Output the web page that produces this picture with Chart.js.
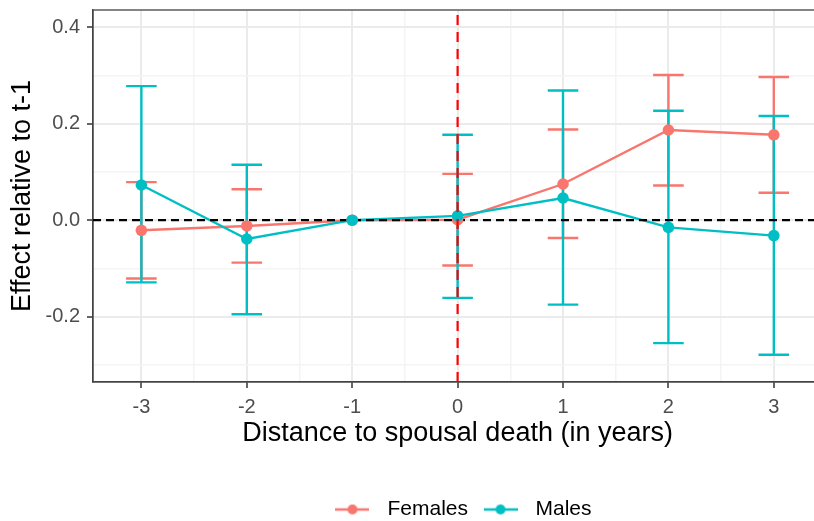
<!DOCTYPE html>
<html><head><meta charset="utf-8">
<script src="https://cdn.jsdelivr.net/npm/chart.js@4.4.1/dist/chart.umd.min.js"></script>
<style>
html,body{margin:0;padding:0;background:#fff;overflow:hidden;width:814px;height:521px}
#wrap{position:absolute;left:0;top:0;width:828px;height:521px}
</style>
</head><body><div id="wrap"><canvas id="c" width="828" height="521"></canvas></div>
<script>
// ---- data ----
const years = [-3, -2, -1, 0, 1, 2, 3];
const femalesEst = [-0.021, -0.012, 0, 0.001, 0.075, 0.187, 0.177];
const femalesLo  = [-0.121, -0.088, null, -0.094, -0.037, 0.072, 0.057];
const femalesHi  = [0.079, 0.064, null, 0.096, 0.188, 0.301, 0.297];
const malesEst   = [0.073, -0.039, 0, 0.009, 0.046, -0.015, -0.032];
const malesLo    = [-0.129, -0.195, null, -0.161, -0.175, -0.255, -0.279];
const malesHi    = [0.278, 0.115, null, 0.177, 0.269, 0.227, 0.216];
const seriesNames = ['Females', 'Males'];
const xTickValues = [-3, -2, -1, 0, 1, 2, 3];
const xTickLabels = ['-3', '-2', '-1', '0', '1', '2', '3'];
const xMinorValues = [-2.5, -1.5, -0.5, 0.5, 1.5, 2.5];
const yTickValues = [-0.2, 0, 0.2, 0.4];
const yTickLabels = ['-0.2', '0.0', '0.2', '0.4'];
const yMinorValues = [-0.3, -0.1, 0.1, 0.3];
const refLineY = 0;      // horizontal reference
const eventX = 0;        // spousal death
const xLimits = [-3.459, 3.459];
const yLimits = [-0.3355, 0.4358];
const capHalf = 0.145;

// ---- styles ----
const colF = '#F8766D', colM = '#00BFC4';
const FONT = '"Liberation Sans", Arial, sans-serif';

function pts(xs, ys) { return xs.map((x, i) => ({x: x, y: ys[i]})); }
function errorSegments(xs, lo, hi) {
  const out = [];
  xs.forEach((x, i) => {
    if (lo[i] == null || hi[i] == null) return;
    out.push({x: x, y: lo[i]}, {x: x, y: hi[i]}, {x: x, y: null});
    out.push({x: x - capHalf, y: hi[i]}, {x: x + capHalf, y: hi[i]}, {x: x, y: null});
    out.push({x: x - capHalf, y: lo[i]}, {x: x + capHalf, y: lo[i]}, {x: x, y: null});
  });
  return out;
}
function legendIcon(color) {
  const c = document.createElement('canvas');
  c.width = 34; c.height = 12;
  const g = c.getContext('2d');
  g.strokeStyle = color; g.lineWidth = 2.4;
  g.beginPath(); g.moveTo(0, 6); g.lineTo(34, 6); g.stroke();
  g.fillStyle = color; g.beginPath(); g.arc(17, 6, 5, 0, Math.PI * 2); g.fill();
  return c;
}
const near = (v, arr) => arr.some(a => Math.abs(a - v) < 1e-9);

const lineBase = {showLine: true, pointRadius: 0, borderWidth: 2.4, spanGaps: false, fill: false};

const datasets = [
  Object.assign({}, lineBase, {label: 'vline', data: [{x: eventX, y: yLimits[0]}, {x: eventX, y: yLimits[1]}], borderColor: '#ff0000', borderDash: [10, 7], borderWidth: 2.2}),
  {label: 'Males pts', data: pts(years, malesEst), showLine: false, pointRadius: 5.8, pointBackgroundColor: colM, pointBorderColor: colM, pointBorderWidth: 0},
  {label: 'Females pts', data: pts(years, femalesEst), showLine: false, pointRadius: 5.8, pointBackgroundColor: colF, pointBorderColor: colF, pointBorderWidth: 0},
  Object.assign({}, lineBase, {label: 'hline', data: [{x: xLimits[0], y: refLineY}, {x: xLimits[1], y: refLineY}], borderColor: '#000000', borderDash: [8, 5], borderWidth: 2.2}),
  Object.assign({}, lineBase, {label: 'Males line', data: pts(years, malesEst), borderColor: colM}),
  Object.assign({}, lineBase, {label: 'Females line', data: pts(years, femalesEst), borderColor: colF}),
  Object.assign({}, lineBase, {label: 'Males eb', data: errorSegments(years, malesLo, malesHi), borderColor: colM}),
  Object.assign({}, lineBase, {label: 'Females eb', data: errorSegments(years, femalesLo, femalesHi), borderColor: colF})
];

const frame = {
  id: 'frame',
  afterLayout(chart) {
    if (chart.legend) { chart.legend.left += 47; chart.legend.right += 47; }
  },
  beforeDatasetsDraw(chart) {
    const a = chart.chartArea, g = chart.ctx;
    g.save(); g.strokeStyle = '#444'; g.lineWidth = 1.3;
    g.strokeRect(a.left, a.top, a.right - a.left, a.bottom - a.top);
    g.restore();
  }
};

new Chart(document.getElementById('c'), {
  type: 'scatter',
  data: {datasets: datasets},
  plugins: [frame],
  options: {
    responsive: false, animation: false,
    layout: {padding: {top: 10, left: 0, right: 2.5, bottom: -9}},
    plugins: {
      tooltip: {enabled: false},
      legend: {
        position: 'bottom', onClick: null,
        labels: {
          usePointStyle: true, pointStyleWidth: 49, boxHeight: 12, padding: 8,
          font: {family: FONT, size: 21}, color: '#1a1a1a',
          generateLabels: () => [
            {text: seriesNames[0], pointStyle: legendIcon(colF), fillStyle: 'rgba(0,0,0,0)', strokeStyle: 'rgba(0,0,0,0)', lineWidth: 0, hidden: false, datasetIndex: 2},
            {text: seriesNames[1], pointStyle: legendIcon(colM), fillStyle: 'rgba(0,0,0,0)', strokeStyle: 'rgba(0,0,0,0)', lineWidth: 0, hidden: false, datasetIndex: 1}
          ]
        }
      }
    },
    scales: {
      x: {
        type: 'linear', min: xLimits[0], max: xLimits[1],
        afterBuildTicks: s => { s.ticks = xTickValues.concat(xMinorValues).sort((a, b) => a - b).map(v => ({value: v})); },
        afterFit: s => { s.height = 109; s.paddingLeft = 0; s.paddingRight = 0; },
        ticks: {
          autoSkip: false, maxRotation: 0, padding: 7, color: '#4d4d4d',
          font: {family: FONT, size: 20},
          callback: v => { const i = xTickValues.findIndex(t => Math.abs(t - v) < 1e-9); return i >= 0 ? xTickLabels[i] : ''; }
        },
        grid: {
          color: c => near(c.tick.value, xTickValues) ? '#ebebeb' : '#f4f4f4',
          lineWidth: c => near(c.tick.value, xTickValues) ? 2 : 1.5,
          tickColor: c => near(c.tick.value, xTickValues) ? '#333' : 'rgba(0,0,0,0)',
          tickLength: 6, tickWidth: 1.5
        },
        border: {display: true, color: '#444', width: 1.3},
        title: {display: true, text: 'Distance to spousal death (in years)', color: '#000', font: {family: FONT, size: 27}, padding: {top: 0, bottom: 41}}
      },
      y: {
        type: 'linear', min: yLimits[0], max: yLimits[1],
        afterBuildTicks: s => { s.ticks = yTickValues.concat(yMinorValues).sort((a, b) => a - b).map(v => ({value: v})); },
        afterFit: s => { s.width = 93; s.paddingTop = 0; s.paddingBottom = 0; },
        ticks: {
          autoSkip: false, padding: 7, color: '#4d4d4d',
          font: {family: FONT, size: 20},
          callback: v => { const i = yTickValues.findIndex(t => Math.abs(t - v) < 1e-9); return i >= 0 ? yTickLabels[i] : ''; }
        },
        grid: {
          color: c => near(c.tick.value, yTickValues) ? '#ebebeb' : '#f4f4f4',
          lineWidth: c => near(c.tick.value, yTickValues) ? 2 : 1.5,
          tickColor: c => near(c.tick.value, yTickValues) ? '#333' : 'rgba(0,0,0,0)',
          tickLength: 6, tickWidth: 1.5
        },
        border: {display: true, color: '#444', width: 1.3},
        title: {display: true, text: 'Effect relative to t-1', color: '#000', font: {family: FONT, size: 27}, padding: {top: 6, bottom: 0}}
      }
    }
  }
});
</script></body></html>
